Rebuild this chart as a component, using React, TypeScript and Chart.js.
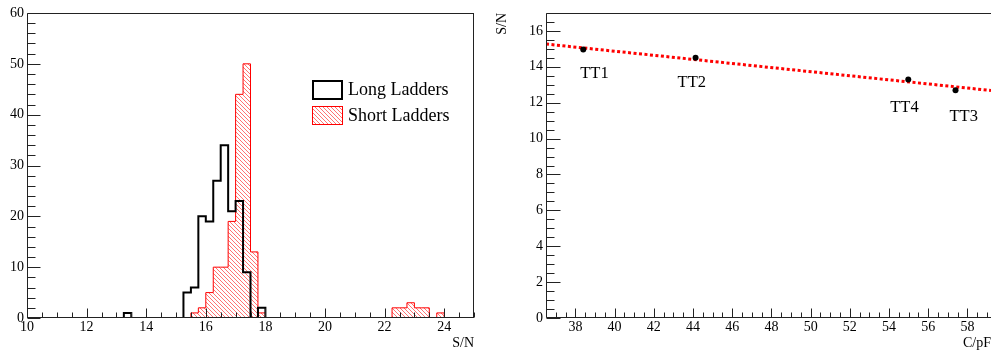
import React, { useEffect, useRef } from 'react';
import { Chart, registerables } from 'chart.js';
Chart.register(...registerables);

// ---------- data ----------
const histMin = 10;
const histMax = 25;
const binWidth = 0.25;
// counts per bin (60 bins of 0.25 from 10 to 25)
const longLadders = [
  0, 0, 0, 0, 0, 0, 0, 0, 0, 0,
  0, 0, 0, 1, 0, 0, 0, 0, 0, 0,
  0, 5, 6, 20, 19, 27, 34, 21, 23, 9,
  0, 2, 0, 0, 0, 0, 0, 0, 0, 0,
  0, 0, 0, 0, 0, 0, 0, 0, 0, 0,
  0, 0, 0, 0, 0, 0, 0, 0, 0, 0,
];
const shortLadders = [
  0, 0, 0, 0, 0, 0, 0, 0, 0, 0,
  0, 0, 0, 0, 0, 0, 0, 0, 0, 0,
  0, 0, 1, 2, 5, 10, 10, 19, 44, 50,
  13, 1, 0, 0, 0, 0, 0, 0, 0, 0,
  0, 0, 0, 0, 0, 0, 0, 0, 0, 2,
  2, 3, 2, 2, 0, 1, 0, 0, 0, 0,
];
const histLabels = ['Long Ladders', 'Short Ladders'];

const capacitance = [38.4, 44.13, 54.98, 57.39];
const signalNoise = [14.96, 14.5, 13.3, 12.7];
const stationLabels = ['TT1', 'TT2', 'TT4', 'TT3'];
const fitX = [36.5, 59.2];
const fitY = [15.27, 12.68];

// ---------- styles ----------
const FONT = "'Liberation Serif', 'DejaVu Serif', 'Times New Roman', serif";
const labelOffsets = [[-3, 28], [-18, 29], [-18, 33], [-6, 31]];

function makeHatch(): CanvasPattern | string {
  const c = document.createElement('canvas');
  c.width = 4; c.height = 4;
  const g = c.getContext('2d')!;
  g.strokeStyle = 'rgba(255,0,0,0.55)';
  g.lineWidth = 1;
  g.beginPath(); g.moveTo(-1, -1); g.lineTo(5, 5); g.stroke();
  g.beginPath(); g.moveTo(-1, 3); g.lineTo(1, 5); g.stroke();
  g.beginPath(); g.moveTo(3, -1); g.lineTo(5, 1); g.stroke();
  const p = g.createPattern(c, 'repeat');
  return p || 'rgba(255,0,0,0.3)';
}

function histPoints(counts: number[]) {
  const pts = counts.map((v, i) => ({ x: histMin + i * binWidth, y: v }));
  pts.push({ x: histMax, y: 0 });
  return pts;
}

const rootAxes = {
  id: 'rootAxes',
  afterDatasetsDraw(chart: any, _args: any, o: any) {
    const { ctx, chartArea: a, scales } = chart;
    const x = scales.x, y = scales.y;
    const L = Math.round(a.left) + 0.5;
    const B = Math.round(a.bottom) - 0.5;
    const T = Math.round(a.top) + 0.5;
    const R = Math.round(a.right) - 0.5;
    ctx.save();
    ctx.strokeStyle = '#222';
    ctx.lineWidth = 1;
    ctx.beginPath();
    ctx.moveTo(L, T); ctx.lineTo(L, B); ctx.lineTo(a.right, B);
    ctx.moveTo(L, T); ctx.lineTo(a.right, T);
    if (o.frameRight) { ctx.moveTo(R, T); ctx.lineTo(R, B); }
    ctx.stroke();
    ctx.beginPath();
    const eps = 1e-6;
    for (let v = Math.ceil(x.min / o.xMinor - eps) * o.xMinor; v <= x.max + eps; v += o.xMinor) {
      const px = Math.round(x.getPixelForValue(v)) + 0.5;
      const major = Math.abs(v / o.xMajor - Math.round(v / o.xMajor)) < 1e-6;
      ctx.moveTo(px, B); ctx.lineTo(px, B - (major ? o.xMajorLen : o.xMinorLen));
    }
    for (let v = Math.ceil(y.min / o.yMinor - eps) * o.yMinor; v <= y.max + eps; v += o.yMinor) {
      const py = Math.round(y.getPixelForValue(v)) + 0.5;
      const major = Math.abs(v / o.yMajor - Math.round(v / o.yMajor)) < 1e-6;
      ctx.moveTo(L, py); ctx.lineTo(L + (major ? o.yMajorLen : o.yMinorLen), py);
    }
    ctx.stroke();
    ctx.restore();
  },
};

const histLegend = {
  id: 'histLegend',
  afterDraw(chart: any, _args: any, o: any) {
    if (!o || !o.show) return;
    const { ctx } = chart;
    const ds = chart.data.datasets;
    ctx.save();
    // long ladders
    ctx.lineWidth = 2;
    ctx.strokeStyle = '#000';
    ctx.strokeRect(313, 81, 29, 18);
    // short ladders
    ctx.fillStyle = ds[1].backgroundColor;
    ctx.fillRect(313, 107, 29, 17);
    ctx.lineWidth = 1;
    ctx.strokeStyle = '#ff0000';
    ctx.strokeRect(312.5, 106.5, 30, 18);
    ctx.fillStyle = '#000';
    ctx.font = `18px ${FONT}`;
    ctx.textAlign = 'left';
    ctx.textBaseline = 'alphabetic';
    ctx.fillText(ds[0].label, 348, 95);
    ctx.fillText(ds[1].label, 348, 121);
    ctx.restore();
  },
};

const pointTags = {
  id: 'pointTags',
  afterDatasetsDraw(chart: any, _args: any, o: any) {
    if (!o || !o.labels) return;
    const { ctx } = chart;
    const meta = chart.getDatasetMeta(0);
    ctx.save();
    ctx.fillStyle = '#000';
    ctx.font = `16.5px ${FONT}`;
    ctx.textAlign = 'left';
    ctx.textBaseline = 'alphabetic';
    meta.data.forEach((el: any, i: number) => {
      const off = labelOffsets[i] || [0, 0];
      ctx.fillText(o.labels[i], el.x + off[0], el.y + off[1]);
    });
    ctx.restore();
  },
};

const tickFont = { family: FONT, size: 14, lineHeight: 1 };
const titleFont = { family: FONT, size: 14, lineHeight: 1 };

function ChartCanvas({ width, left, build }: { width: number; left: number; build: () => any }) {
  const ref = useRef<HTMLCanvasElement>(null);
  useEffect(() => {
    const chart = new Chart(ref.current!, build());
    return () => chart.destroy();
  }, []);
  return (
    <canvas
      ref={ref}
      width={width}
      height={350}
      style={{ position: 'absolute', left, top: 0, width, height: 350 }}
    />
  );
}

function buildHist() {
  const hatch = makeHatch();
  return {
    type: 'line',
    data: {
      datasets: [
        {
          label: histLabels[0],
          data: histPoints(longLadders),
          stepped: 'before',
          borderColor: '#000',
          borderWidth: 2,
          pointRadius: 0,
          fill: false,
        },
        {
          label: histLabels[1],
          data: histPoints(shortLadders),
          stepped: 'before',
          borderColor: '#ff0000',
          borderWidth: 1,
          pointRadius: 0,
          fill: 'origin',
          backgroundColor: hatch,
        },
      ],
    },
    options: {
      responsive: false,
      animation: false,
      devicePixelRatio: 1,
      layout: { padding: { top: 13, right: 21, left: 0, bottom: 0 } },
      plugins: {
        legend: { display: false },
        tooltip: { enabled: false },
        rootAxes: { xMinor: 0.5, xMajor: 2, yMinor: 2, yMajor: 10, xMajorLen: 9, xMinorLen: 5, yMajorLen: 13, yMinorLen: 8, frameRight: true },
        histLegend: { show: true },
      },
      scales: {
        x: {
          type: 'linear',
          min: histMin,
          max: histMax,
          afterFit: (s: any) => { s.height = 32; },
          grid: { display: false, drawTicks: false },
          border: { display: false },
          ticks: { stepSize: 2, includeBounds: false, padding: 2, font: tickFont, color: '#000', maxRotation: 0, autoSkip: false },
          title: { display: true, text: 'S/N', align: 'end', font: titleFont, padding: 0, color: '#000' },
        },
        y: {
          type: 'linear',
          min: 0,
          max: 60,
          afterFit: (s: any) => { s.width = 27; },
          grid: { display: false, drawTicks: false },
          border: { display: false },
          ticks: { stepSize: 10, includeBounds: false, padding: 3, font: tickFont, color: '#000' },
        },
      },
    },
    plugins: [rootAxes, histLegend],
  };
}

function buildScatter() {
  return {
    type: 'scatter',
    data: {
      datasets: [
        {
          type: 'scatter',
          label: 'S/N',
          data: capacitance.map((c, i) => ({ x: c, y: signalNoise[i] })),
          pointRadius: 3,
          pointBackgroundColor: '#000',
          pointBorderColor: '#000',
          pointBorderWidth: 0,
          showLine: false,
        },
        {
          type: 'line',
          label: 'fit',
          data: fitX.map((c, i) => ({ x: c, y: fitY[i] })),
          borderColor: '#ff0000',
          borderWidth: 3,
          borderDash: [3, 2.5],
          pointRadius: 0,
          fill: false,
        },
      ],
    },
    options: {
      responsive: false,
      animation: false,
      devicePixelRatio: 1,
      layout: { padding: { top: 13, right: 0, left: 0, bottom: 0 } },
      plugins: {
        legend: { display: false },
        tooltip: { enabled: false },
        rootAxes: { xMinor: 0.5, xMajor: 2, yMinor: 0.5, yMajor: 2, xMajorLen: 9, xMinorLen: 5, yMajorLen: 14, yMinorLen: 8, frameRight: false },
        pointTags: { labels: stationLabels },
      },
      scales: {
        x: {
          type: 'linear',
          min: 36.5,
          max: 59.2,
          afterFit: (s: any) => { s.height = 32; },
          grid: { display: false, drawTicks: false },
          border: { display: false },
          ticks: { stepSize: 2, includeBounds: false, padding: 2, font: tickFont, color: '#000', maxRotation: 0, autoSkip: false },
          title: { display: true, text: 'C/pF', align: 'end', font: titleFont, padding: 0, color: '#000' },
        },
        y: {
          type: 'linear',
          min: 0,
          max: 17,
          afterFit: (s: any) => { s.width = 51; },
          grid: { display: false, drawTicks: false },
          border: { display: false },
          ticks: { stepSize: 2, includeBounds: false, padding: 3, font: tickFont, color: '#000' },
          title: { display: true, text: 'S/N', align: 'end', font: titleFont, padding: 0, color: '#000' },
        },
      },
    },
    plugins: [rootAxes, pointTags],
  };
}

export default function App() {
  return (
    <div style={{ position: 'absolute', left: 0, top: 0, width: 995, height: 350, background: '#fff', overflow: 'hidden' }}>
      <ChartCanvas width={495} left={0} build={buildHist} />
      <ChartCanvas width={500} left={495} build={buildScatter} />
    </div>
  );
}
